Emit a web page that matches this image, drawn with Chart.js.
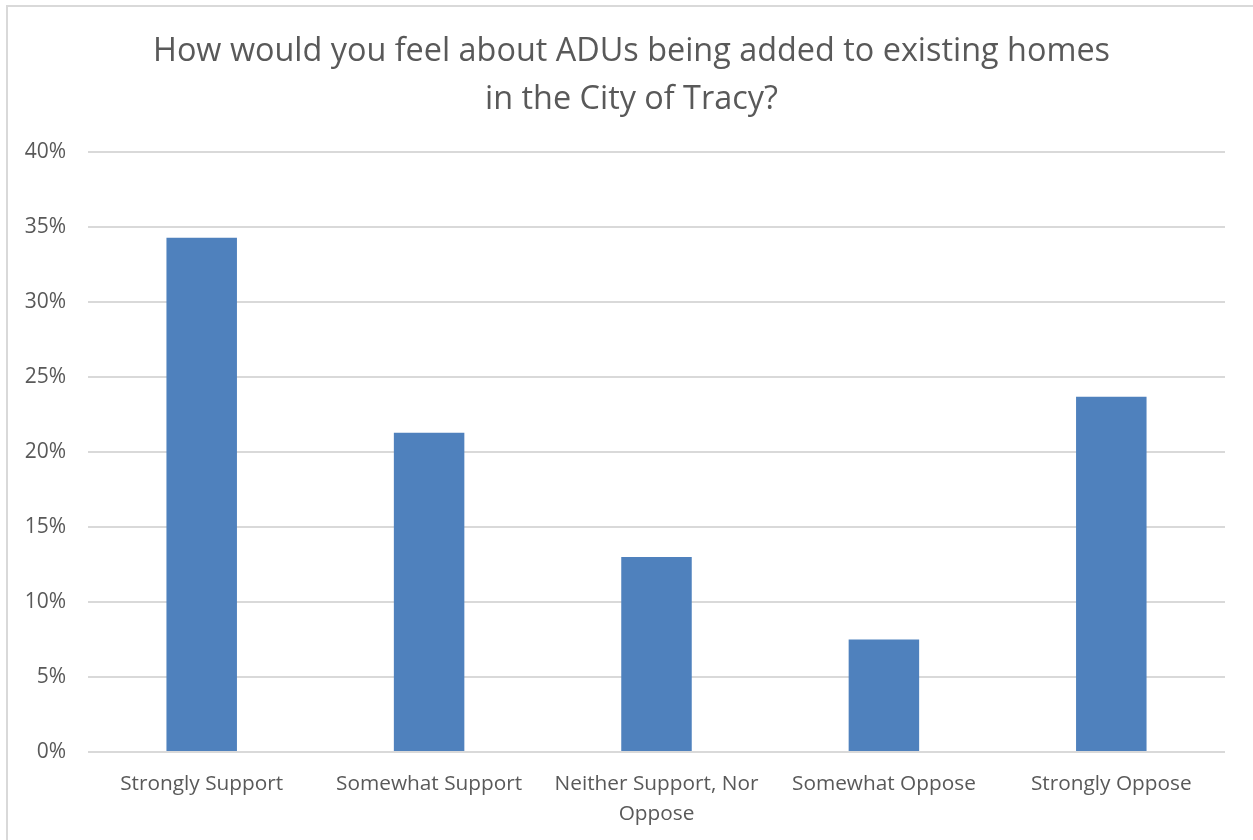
<!DOCTYPE html>
<html>
<head>
<meta charset="utf-8">
<script src="https://cdn.jsdelivr.net/npm/chart.js@4.4.1/dist/chart.umd.min.js"></script>
<style>
  html, body { margin: 0; padding: 0; background: #fff; overflow: hidden; }
  #frame { position: absolute; left: 6px; top: 5px; width: 1260px; height: 850px; border: 2px solid #d9d9d9; box-sizing: border-box; }
  #wrap { position: absolute; left: 0; top: 0; width: 1253px; height: 840px; }
</style>
</head>
<body>
<div id="frame"></div>
<div id="wrap"><canvas id="adu"></canvas></div>
<script>
const titleLines = ['How would you feel about ADUs being added to existing homes', 'in the City of Tracy?'];
const categories = [
    'Strongly Support',
    'Somewhat Support',
    ['Neither Support, Nor', 'Oppose'],
    'Somewhat Oppose',
    'Strongly Oppose'
];
const responses = [34.3, 21.3, 13.0, 7.5, 23.7];
const yTicks = [0, 5, 10, 15, 20, 25, 30, 35, 40];

const textColor = '#595959';
const fontFamily = '"Open Sans", Lato, sans-serif';

// the original centres its title on the whole frame, not on the padded layout
const shiftTitle = {
    id: 'shiftTitle',
    afterLayout: function(chart) {
        if (chart.titleBlock) {
            chart.titleBlock.left += 19;
            chart.titleBlock.right += 19;
        }
    }
};

document.addEventListener('DOMContentLoaded', function() {
    new Chart(document.getElementById('adu').getContext('2d'), {
        type: 'bar',
        data: {
            labels: categories,
            datasets: [{
                data: responses,
                backgroundColor: '#4f81bd',
                categoryPercentage: 1,
                barPercentage: 0.31
            }]
        },
        plugins: [shiftTitle],
        options: {
            responsive: true,
            maintainAspectRatio: false,
            animation: false,
            layout: { padding: { left: 0, right: 28, top: 0, bottom: 0 } },
            plugins: {
                legend: { display: false },
                tooltip: { enabled: false },
                title: {
                    display: true,
                    text: titleLines,
                    color: textColor,
                    font: { family: fontFamily, size: 32.4, weight: 'normal', lineHeight: 1.47 },
                    padding: { top: 28, bottom: 29 }
                }
            },
            scales: {
                x: {
                    grid: { display: false },
                    border: { display: false },
                    ticks: {
                        color: textColor,
                        font: { family: fontFamily, size: 20.8, lineHeight: 1.4 },
                        padding: 10,
                        maxRotation: 0,
                        autoSkip: false
                    },
                    afterFit: function(s) { s.height = 88; }
                },
                y: {
                    min: 0,
                    max: 40,
                    afterBuildTicks: function(s) { s.ticks = yTicks.map(v => ({ value: v })); },
                    grid: { color: '#d9d9d9', lineWidth: 2, drawTicks: false },
                    border: { display: false },
                    ticks: {
                        color: textColor,
                        font: { family: fontFamily, size: 21 },
                        padding: 22,
                        callback: v => v + '%'
                    },
                    afterFit: function(s) { s.width = 88; }
                }
            }
        }
    });
});
</script>
</body>
</html>
